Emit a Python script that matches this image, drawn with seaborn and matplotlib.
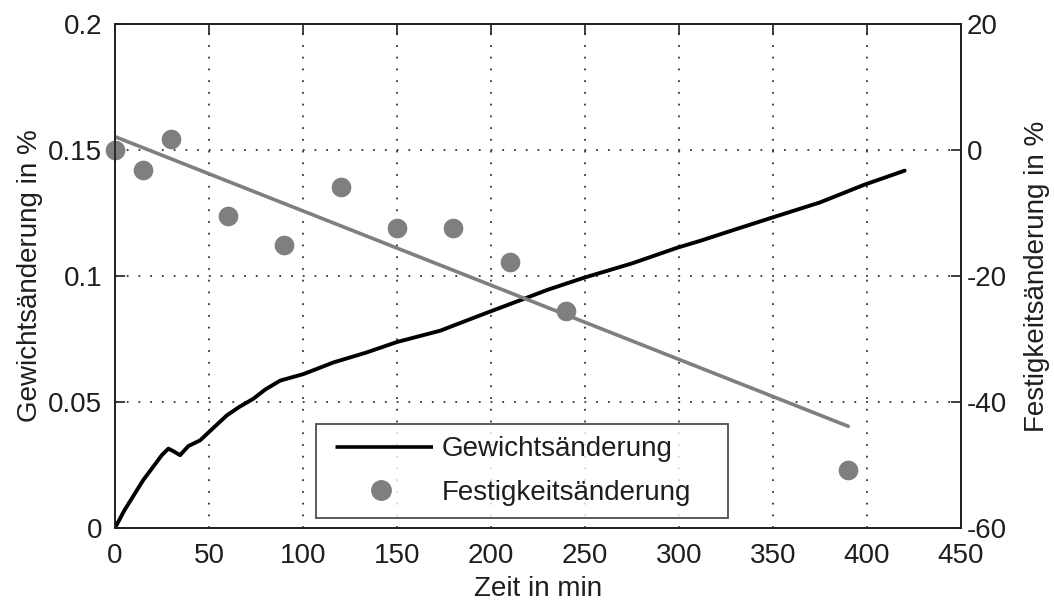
import matplotlib
matplotlib.use("Agg")
import matplotlib.pyplot as plt
from matplotlib.lines import Line2D
import seaborn as sns
import numpy as np
import pandas as pd

# Gewichtsänderung curve (left axis, %)
zeit_gew = [0, 5, 10, 15, 20, 25, 28.4, 31, 34.6, 39, 45.3, 52, 59.5, 66, 73.6, 80, 87.9, 100.3,
            116.2, 134, 150, 173, 196, 215.6, 230, 249.4, 275, 299, 311.5, 330, 348.8, 375, 398.5, 420]
gewicht = [0, 0.007, 0.013, 0.019, 0.024, 0.029, 0.0315, 0.0305, 0.0289, 0.0325, 0.0348, 0.0395,
           0.0447, 0.048, 0.0513, 0.055, 0.0585, 0.0611, 0.0657, 0.0697, 0.0738, 0.0783, 0.0849,
           0.0904, 0.0945, 0.0993, 0.105, 0.1112, 0.1140, 0.1185, 0.1230, 0.1292, 0.1362, 0.1418]

# Festigkeitsänderung points (right axis, %)
zeit_fest = [0, 15, 30, 60, 90, 120, 150, 180, 210, 240, 390]
festigkeit = [0, -3.2, 1.8, -10.5, -15.1, -5.9, -12.4, -12.4, -17.7, -25.6, -50.8]

x_ticks = [0, 50, 100, 150, 200, 250, 300, 350, 400, 450]
y1_ticks = [0, 0.05, 0.1, 0.15, 0.2]
y1_labels = ["0", "0.05", "0.1", "0.15", "0.2"]
y2_ticks = [-60, -40, -20, 0, 20]

sns.set_style("white")
plt.rcParams["font.family"] = ["Liberation Sans", "DejaVu Sans"]
plt.rcParams["font.size"] = 20
plt.rcParams["axes.unicode_minus"] = False

FS = 20
TXT = "#1e1e1e"

fig = plt.figure(figsize=(10.54, 6.10), dpi=100)
ax1 = fig.add_axes([0.1091, 0.1344, 0.8027, 0.8263])
ax2 = ax1.twinx()

gray = "#7f7f7f"
df_g = pd.DataFrame({"Zeit": zeit_gew, "Gew": gewicht})
df_f = pd.DataFrame({"Zeit": zeit_fest, "Fest": festigkeit})

sns.lineplot(data=df_g, x="Zeit", y="Gew", ax=ax1, color="black", linewidth=2.8, zorder=3)
sns.regplot(data=df_f, x="Zeit", y="Fest", ax=ax2, ci=None, truncate=True,
            color=gray,
            scatter_kws={"s": 200, "color": gray, "clip_on": False, "linewidths": 0, "alpha": 1},
            line_kws={"color": gray, "linewidth": 2.6})

ax1.set_xlim(0, 450)
ax1.set_ylim(0, 0.2)
ax2.set_ylim(-60, 20)
ax1.set_xticks(x_ticks)
ax1.set_yticks(y1_ticks)
ax1.set_yticklabels(y1_labels)
ax2.set_yticks(y2_ticks)

ax1.grid(True, linestyle=(0, (1, 5.5)), color="#333333", linewidth=1.3)
ax1.set_axisbelow(True)

for ax in (ax1, ax2):
    for s in ax.spines.values():
        s.set_color("#222222")
        s.set_linewidth(1.3)

ax1.tick_params(axis="both", direction="in", length=7, width=1.2, top=True, right=False,
                labelsize=FS, colors=TXT)
ax1.tick_params(axis="x", pad=11)
ax1.tick_params(axis="y", pad=9)
ax2.tick_params(axis="y", direction="in", length=7, width=1.2, labelsize=FS,
                colors=TXT, pad=4)

ax1.set_xlabel("Zeit in min", fontsize=FS, color=TXT)
ax1.set_ylabel("Gewichtsänderung in %", fontsize=FS, color=TXT)
ax2.set_ylabel("Festigkeitsänderung in %", fontsize=FS, color=TXT, rotation=90)
ax1.xaxis.set_label_coords(0.5, -0.095)
ax1.yaxis.set_label_coords(-0.085, 0.5)
ax2.yaxis.set_label_coords(1.0745, 0.5)

# legend line handle starts a little inside its slot (leading gap via dash pattern)
handles = [Line2D([], [], color="black", linewidth=2.6,
                  linestyle=(0, (0.0001, 1.8, 80, 1)), dash_capstyle="butt"),
           Line2D([], [], color=gray, marker="o", linestyle="none", markersize=14)]
leg = ax2.legend(handles, ["Gewichtsänderung", "Festigkeitsänderung"],
                 loc="lower left", bbox_to_anchor=(0.2376, 0.0198, 0.487, 0.188), mode="expand",
                 frameon=True, fancybox=False, edgecolor="#222222", fontsize=FS,
                 handlelength=3.76, handletextpad=0.32, borderpad=0.45, labelspacing=0.62,
                 borderaxespad=0)
leg.get_frame().set_linewidth(1.3)
for t in leg.get_texts():
    t.set_color(TXT)

fig.savefig("out.png", dpi=100)
